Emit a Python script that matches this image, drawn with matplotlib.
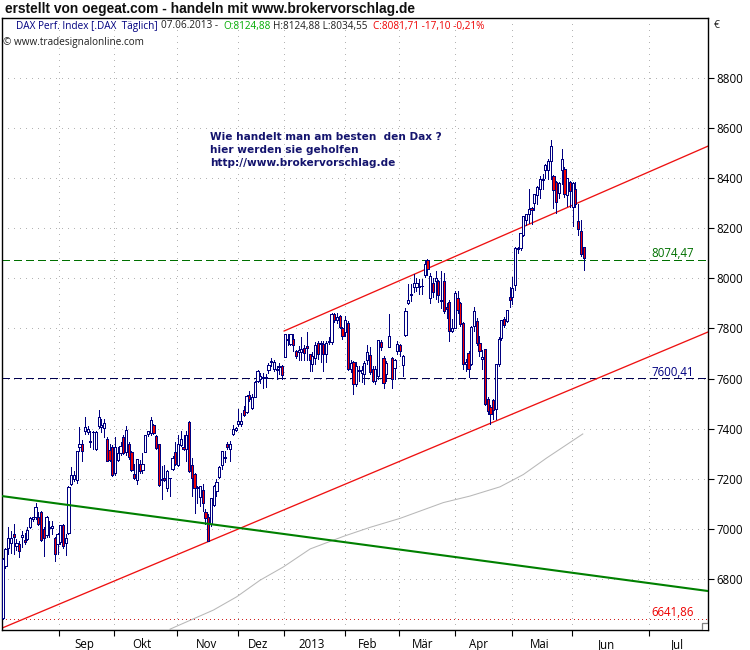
import matplotlib
matplotlib.use("Agg")
import matplotlib.pyplot as plt
from matplotlib.patches import Rectangle

# daily candles, index 0 = first bar on the left
opens = [6645,6850,6925,6945,6980,6930,6938,6967,6956,6960,7009,7040,7049,7049,7066,7000,6974,7004,7004,6964,
         6940,6947,7016,6943,6983,7181,7198,7195,7326,7340,7389,7387,7347,7387,7317,7409,7405,7403,7360,7316,
         7327,7224,7277,7304,7366,7308,7337,7306,7218,7194,7261,7235,7308,7379,7383,7413,7370,7337,7195,7205,
         7162,7203,7238,7306,7255,7334,7326,7317,7426,7257,7220,7165,7129,7154,7066,7049,7020,7096,7152,7207,
         7257,7285,7340,7318,7379,7396,7418,7418,7475,7468,7535,7482,7528,7590,7600,7603,7603,7633,7668,7637,
         7633,7648,7650,7687,7755,7737,7757,7710,7705,7705,7723,7730,7700,7660,7683,7743,7737,7740,7700,7746,
         7746,7856,7835,7850,7800,7786,7820,7637,7666,7580,7630,7624,7617,7674,7696,7637,7590,7610,7745,7681,
         7617,7727,7681,7641,7710,7733,7653,7774,7903,7932,7967,7967,7966,7968,8012,8072,7923,7983,7991,7989,
         7910,7989,7887,7906,7790,7803,7923,7900,7820,7660,7703,7660,7810,7830,7743,7680,7717,7517,7488,7515,
         7477,7657,7763,7836,7830,7925,7924,7975,8117,8123,8174,8233,8256,8280,8302,8333,8355,8392,8431,8432,
         8468,8408,8386,8342,8431,8435,8333,8384,8285,8355,8229,8189,8124.88]
highs = [6885,6925,7007,6990,7018,6960,6953,6993,6985,7007,7046,7048,7105,7066,7070,7007,7053,7033,7030,6967,
         6985,7016,7018,6980,7170,7247,7230,7312,7408,7356,7445,7410,7390,7392,7390,7475,7437,7437,7365,7340,
         7335,7365,7325,7345,7375,7410,7345,7310,7260,7281,7275,7304,7374,7392,7445,7420,7375,7340,7250,7255,
         7235,7205,7290,7345,7375,7390,7375,7390,7432,7285,7225,7170,7172,7178,7080,7060,7125,7175,7198,7250,
         7312,7310,7345,7350,7415,7405,7480,7462,7490,7535,7550,7540,7590,7635,7624,7624,7620,7664,7683,7675,
         7650,7663,7656,7777,7777,7777,7777,7715,7730,7765,7735,7786,7700,7707,7745,7750,7750,7750,7750,7765,
         7860,7860,7860,7855,7805,7850,7830,7675,7670,7665,7650,7650,7670,7735,7725,7650,7650,7755,7755,7690,
         7670,7858,7685,7680,7750,7740,7695,7883,7976,7976,8016,8000,7997,7997,8074,8078,8023,8000,8030,7995,
         8028,8023,7900,7915,7838,7950,7950,7905,7825,7680,7710,7810,7885,7840,7770,7715,7720,7525,7495,7520,
         7660,7765,7835,7845,7875,7965,8004,8125,8127,8182,8250,8258,8355,8285,8337,8368,8408,8415,8456,8475,
         8554,8412,8390,8385,8518,8445,8402,8390,8385,8385,8295,8235,8124.88]
lows = [6642,6845,6900,6905,6898,6915,6888,6927,6940,6954,7005,7030,7040,7017,6950,6890,6968,6968,6980,6872,
        6900,6940,6925,6895,6980,7175,7190,7185,7310,7270,7380,7380,7325,7320,7315,7402,7385,7366,7270,7270,
        7212,7215,7270,7295,7300,7295,7280,7230,7200,7180,7225,7225,7305,7370,7375,7380,7320,7172,7120,7190,
        7150,7130,7235,7255,7250,7330,7315,7272,7228,7130,7062,7105,7090,7070,7020,6950,7010,7090,7130,7205,
        7240,7268,7320,7270,7375,7390,7412,7410,7450,7462,7510,7480,7525,7585,7584,7564,7565,7624,7650,7630,
        7597,7617,7597,7685,7735,7735,7710,7683,7675,7675,7675,7675,7630,7630,7660,7680,7665,7630,7665,7740,
        7740,7825,7820,7800,7760,7770,7635,7625,7537,7570,7590,7585,7578,7660,7620,7585,7580,7600,7715,7564,
        7590,7725,7564,7600,7700,7690,7612,7770,7896,7910,7944,7950,7936,7936,8005,8015,7903,7925,7916,7905,
        7880,7860,7840,7750,7785,7800,7860,7810,7640,7630,7605,7655,7790,7735,7690,7640,7495,7460,7418,7440,
        7440,7650,7755,7805,7825,7885,7898,7955,8100,8115,8170,8215,8222,8216,8275,8295,8322,8355,8400,8395,
        8395,8280,8262,8320,8375,8325,8290,8285,8210,8285,8175,8090,8034.55]
closes = [6880,6920,6965,6965,6967,6943,6912,6976,6947,6997,7044,7046,7088,7020,6954,6964,7049,7007,7010,6898,
          6980,7016,6931,6964,7168,7214,7214,7310,7340,7310,7406,7400,7349,7388,7387,7445,7415,7424,7273,7277,
          7214,7326,7304,7330,7304,7396,7286,7234,7205,7281,7231,7261,7374,7392,7436,7383,7323,7174,7200,7195,
          7231,7205,7284,7261,7337,7360,7320,7376,7231,7205,7162,7168,7170,7103,7042,6951,7125,7172,7188,7247,
          7310,7288,7325,7340,7400,7403,7432,7432,7453,7532,7519,7528,7587,7630,7610,7605,7605,7654,7670,7667,
          7637,7650,7613,7777,7760,7777,7733,7690,7715,7720,7703,7722,7673,7690,7734,7700,7743,7697,7743,7750,
          7856,7832,7845,7807,7770,7832,7637,7663,7580,7650,7633,7633,7661,7707,7627,7590,7637,7753,7727,7581,
          7661,7772,7597,7673,7739,7710,7690,7870,7913,7936,7983,7983,7970,7970,8056,8036,8009,7945,8000,7932,
          7915,7870,7876,7790,7800,7943,7872,7816,7657,7665,7637,7806,7870,7743,7710,7685,7500,7470,7457,7475,
          7657,7760,7832,7812,7872,7912,7962,8123,8122,8180,8248,8256,8276,8272,8335,8366,8395,8395,8454,8470,
          8527,8352,8305,8379,8478,8335,8399,8348,8381,8295,8196,8097,8081.71]

y_ticks = [6800, 7000, 7200, 7400, 7600, 7800, 8000, 8200, 8400, 8600, 8800]
month_ticks = [20.5, 40.6, 63.6, 85.9, 102.7, 124.9, 144.6, 165, 185.9, 207.8, 235.9]
month_label_pos = [29.7, 50.8, 74.2, 93.2, 112.9, 133.3, 153.4, 173.8, 196.1, 220.5, 246.1]
month_labels = ["Sep", "Okt", "Nov", "Dez", "2013", "Feb", "Mär", "Apr", "Mai", "Jun", "Jul"]

# 200 day average
ma_x = [61.1, 76.9, 85.4, 93.9, 102.4, 112.2, 124.3, 134, 145, 160.8, 170.5, 181.5, 190, 198.5, 211.7]
ma_y = [6600, 6676, 6729, 6795, 6848, 6920, 6970, 7006, 7042, 7105, 7131, 7168, 7217, 7283, 7379]

# trend lines (x index, y value)
x_min, x_max = -0.26, 257.4
y_min, y_max = 6596.4, 9039.5
channel_low = ([x_min, x_max], [6604, 7786])
channel_up = ([102.7, x_max], [7790, 8528])
green_line = ([x_min, x_max], [7131, 6752])
levels = [8074.47, 7600.41, 6641.86]

navy = "#000080"
W, H = 750, 650


def fx(px):
    return px / W


def fy(py):
    return 1 - py / H


plt.rcParams["font.family"] = ["Open Sans", "DejaVu Sans"]
fig = plt.figure(figsize=(7.5, 6.5), dpi=100)
ax = fig.add_axes([fx(2), fy(630), fx(706), 612 / H])
ax.set_xlim(x_min, x_max)
ax.set_ylim(y_min, y_max)

# dotted grid
ax.set_xticks(month_ticks)
ax.set_xticklabels([])
ax.set_yticks(y_ticks)
ax.grid(True, color="#b4b4b4", linestyle=(0, (1, 5.5)), linewidth=0.72, antialiased=False)
ax.set_axisbelow(True)
ax.set_xticks(month_label_pos, minor=True)
ax.set_xticklabels(month_labels, minor=True)
ax.tick_params(axis="x", which="minor", length=0, labelsize=8.3, pad=6)
ax.tick_params(axis="x", which="major", length=4, width=0.8, direction="out")
ax.yaxis.tick_right()
ax.tick_params(axis="y", length=4, width=0.8, labelsize=8.3, pad=2)
for s in ax.spines.values():
    s.set_linewidth(1.0)

# moving average and lines under the candles
ax.plot(ma_x, ma_y, color="#b8b8b8", linewidth=0.75)
ax.axhline(levels[0], color="#007000", linestyle=(0, (7, 5)), linewidth=0.72, antialiased=False)
ax.axhline(levels[1], color="#000050", linestyle=(0, (7, 5)), linewidth=0.72, antialiased=False)
ax.axhline(levels[2], color="#d02020", linestyle=(0, (1, 3.5)), linewidth=0.72, antialiased=False)
ax.plot(channel_low[0], channel_low[1], color="#ee1111", linewidth=0.95)
ax.plot(channel_up[0], channel_up[1], color="#ee1111", linewidth=0.95)

# candles
for i in range(len(opens)):
    o, h, l, c = opens[i], highs[i], lows[i], closes[i]
    ax.vlines(i, l, h, color=navy, linewidth=0.72, zorder=3, antialiased=False)
    fill = "white" if c >= o else "#ee0000"
    ax.add_patch(Rectangle((i - 0.4, min(o, c)), 0.8, abs(c - o), facecolor=fill,
                           edgecolor=navy, linewidth=0.72, zorder=4, antialiased=False))

ax.plot(green_line[0], green_line[1], color="#008000", linewidth=1.5, zorder=5)

# level labels
trans = ax.get_yaxis_transform()
ax.text(0.98, levels[0] - 2, "8074,47", color="#007000", fontsize=8.3, ha="right", va="bottom", transform=trans)
ax.text(0.98, levels[1] - 2, "7600,41", color=navy, fontsize=8.3, ha="right", va="bottom", transform=trans)
ax.text(0.98, levels[2] - 2, "6641,86", color="#ee0000", fontsize=8.3, ha="right", va="bottom", transform=trans)

# little corner box
ax.add_patch(Rectangle((0.991, 0), 0.009, 0.0115, transform=ax.transAxes, facecolor="white",
                       edgecolor="#808080", linewidth=0.9, zorder=6))

# header
fig.text(fx(5), fy(9), "erstellt von oegeat.com - handeln mit www.brokervorschlag.de", fontsize=9.9,
         fontweight="bold", family="Liberation Sans", va="center", ha="left", color="#101010")
header_y = fy(26)
fig.text(fx(16), header_y, "DAX Perf. Index [.DAX  Täglich]", fontsize=7.2, color=navy, va="center")
fig.text(fx(161), header_y, "07.06.2013 -", fontsize=7.2, color="#202020", va="center")
fig.text(fx(223), header_y, "O:8124,88", fontsize=7.2, color="#00aa00", va="center")
fig.text(fx(273), header_y, "H:8124,88 L:8034,55", fontsize=7.2, color="#202020", va="center")
fig.text(fx(373), header_y, "C:8081,71 -17,10 -0,21%", fontsize=7.2, color="#ee0000", va="center")
fig.text(fx(3), fy(42), "© www.tradesignalonline.com", fontsize=7.2, color="#202020", va="center")
fig.text(fx(714), fy(26), "€", fontsize=7.5, color="#202020", va="center")

# note
note_lines = ["Wie handelt man am besten  den Dax ?", "hier werden sie geholfen", "http://www.brokervorschlag.de"]
for line, py in zip(note_lines, [137, 150, 163]):
    fig.text(fx(210), fy(py), line, fontsize=7.55, fontweight="bold", family="DejaVu Sans",
             color="#14146e", va="center")

fig.savefig("out.png", dpi=100)
